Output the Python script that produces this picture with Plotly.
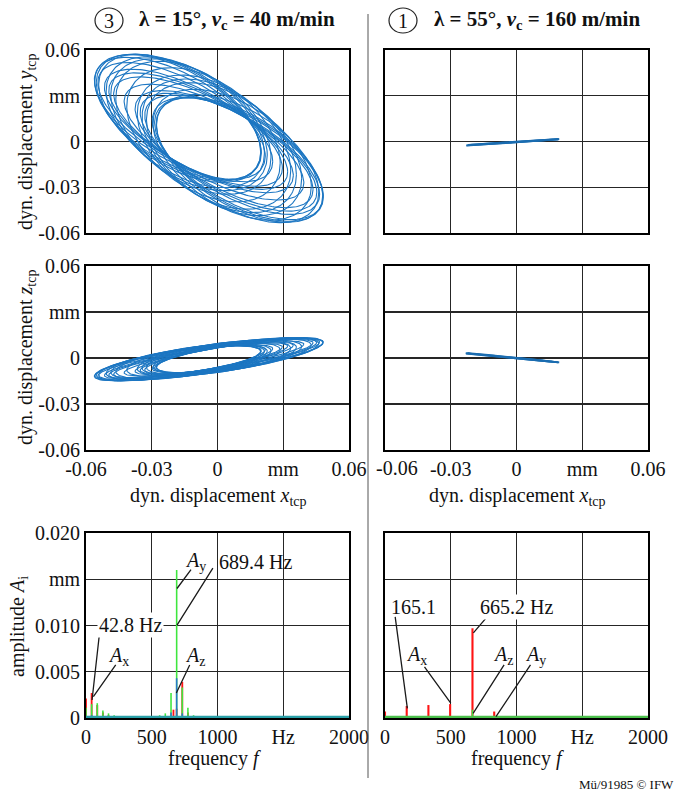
import numpy as np
import plotly.graph_objects as go

W, H = 683, 794
FONT = "Liberation Serif"

# ---------------- data: λ = 15°, vc = 40 m/min (trajectory loops) ----------------
loop_cx = [0.010, 0.0092, 0.0067, 0.003, -0.0016, -0.0064, -0.011, -0.0147, -0.0172,
           -0.018, -0.0172, -0.0147, -0.011, -0.0064, -0.0016, 0.003, 0.0067, 0.0092,
           0.0098, 0.005, -0.0088, -0.0178, -0.013, 0.0008]
loop_cy = [-0.012, -0.0112, -0.0087, -0.005, -0.0004, 0.0044, 0.009, 0.0127, 0.0152,
           0.016, 0.0152, 0.0127, 0.009, 0.0044, -0.0004, -0.005, -0.0087, -0.0112,
           -0.0118, -0.007, 0.0068, 0.0158, 0.011, -0.0028]
loop_ax = [0.038, 0.039, 0.0399, 0.0406, 0.041, 0.041, 0.0406, 0.0399, 0.039,
           0.038, 0.037, 0.0361, 0.0354, 0.035, 0.035, 0.0354, 0.0361, 0.037,
           0.0385, 0.0403, 0.0408, 0.0375, 0.0357, 0.0352]
loop_ay = [0.041, 0.040, 0.0391, 0.0384, 0.038, 0.038, 0.0384, 0.0391, 0.040,
           0.041, 0.042, 0.0429, 0.0436, 0.044, 0.044, 0.0436, 0.0429, 0.042,
           0.0405, 0.0387, 0.0382, 0.0415, 0.0433, 0.0438]
loop_phy = [125, 128.4, 131.4, 133.7, 134.8, 134.8, 133.7, 131.4, 128.4,
            125, 121.6, 118.6, 116.3, 115.2, 115.2, 116.3, 118.6, 121.6,
            126.7, 132.7, 134.4, 123.3, 117.3, 115.6]
loop_cz = [0.0019, 0.0017, 0.0013, 0.0006, -0.0003, -0.0012, -0.0021, -0.0028, -0.0033,
           -0.0034, -0.0033, -0.0028, -0.0021, -0.0012, -0.0003, 0.0006, 0.0013, 0.0017,
           0.0019, 0.0010, -0.0017, -0.0034, -0.0025, 0.0002]
loop_az = [0.0115, 0.0114, 0.0116, 0.0115, 0.0114, 0.0116, 0.0115, 0.0114, 0.0116,
           0.0115, 0.0114, 0.0116, 0.0115, 0.0114, 0.0116, 0.0115, 0.0114, 0.0116,
           0.0115, 0.0114, 0.0116, 0.0115, 0.0114, 0.0116]
loop_phz = [45, 41.6, 38.6, 36.3, 35.2, 35.2, 36.3, 38.6, 41.6,
            45, 48.4, 51.4, 53.7, 54.8, 54.8, 53.7, 51.4, 48.4,
            43.3, 37.3, 35.6, 46.7, 52.7, 54.4]

# ---------------- data: λ = 55°, vc = 160 m/min (trajectory loops) ----------------
r_loop_cx = [-0.0018, -0.0016, -0.0017]
r_loop_ax = [0.0210, 0.0205, 0.0212]
r_loop_cy = [-0.0005, -0.0004, -0.0006]
r_loop_ay = [0.0020, 0.0019, 0.0021]
r_loop_phy = [8, -6, 4]
r_loop_cz = [0.0001, 0.0002, 0.0000]
r_loop_az = [0.0029, 0.0030, 0.0028]
r_loop_phz = [176, 184, 178]

# ---------------- data: amplitude spectra ----------------
l_fx = [0, 42.8, 85.6, 128.4, 171.2, 214, 665, 689.4, 732.2, 775]
l_ax = [0.0021, 0.0027, 0.0014, 0.0006, 0.0003, 0.0002, 0.0009, 0.0010, 0.0039, 0.0006]
l_fy = [0, 42.8, 85.6, 128.4, 171.2, 214, 257, 300, 343, 386, 517, 560, 603, 646.6,
        689.4, 732.2, 775, 818, 861]
l_ay = [0.0011, 0.0015, 0.0016, 0.0008, 0.0005, 0.0003, 0.0002, 0.00015, 0.0001, 0.0001,
        0.0002, 0.0003, 0.0005, 0.0027, 0.0160, 0.0033, 0.0011, 0.0003, 0.0002]
l_fz = [0, 42.8, 646.6, 689.4, 732.2]
l_az = [0.0002, 0.0003, 0.0006, 0.0043, 0.0005]
l_floor_f = [0, 2000]
l_floor_a = [0.00012, 0.00012]

r_fx = [0, 165.1, 330.2, 495.3, 665.2, 830.5, 995.6, 1160.7]
r_ax = [0.0007, 0.0013, 0.0014, 0.0015, 0.0097, 0.0007, 0.0002, 0.0001]
r_fy = [665.2, 830.5]
r_ay = [0.0009, 0.0002]
r_floor_f = [0, 2000]
r_floor_a = [0.00012, 0.00012]

disp_ticks = [-0.06, -0.03, 0, 0.03, 0.06]
disp_labels = ["-0.06", "-0.03", "0", "mm", "0.06"]
freq_ticks = [0, 500, 1000, 1500, 2000]
freq_labels = ["0", "500", "1000", "Hz", "2000"]
amp_ticks = [0, 0.005, 0.010, 0.015, 0.020]
amp_labels = ["0", "0.005", "0.010", "mm", "0.020"]

# ---------------- helpers ----------------
def px(x):
    return x / W

def py(y):
    return 1 - y / H

t = np.linspace(0, 2 * np.pi, 220)

def loop_xy(cx, ax, cy, ay, ph):
    xs, ys = [], []
    for i in range(len(cx)):
        xs += list(cx[i] + ax[i] * np.cos(t)) + [None]
        ys += list(cy[i] + ay[i] * np.cos(t + np.radians(ph[i]))) + [None]
    return xs, ys

fig = go.Figure()
BLUE = "#1c76c2"

x1, y1 = loop_xy(loop_cx, loop_ax, loop_cy, loop_ay, loop_phy)
fig.add_trace(go.Scatter(x=x1, y=y1, mode="lines", line=dict(color=BLUE, width=1.1),
                         xaxis="x", yaxis="y", showlegend=False))
x3, z3 = loop_xy(loop_cx, loop_ax, loop_cz, loop_az, loop_phz)
fig.add_trace(go.Scatter(x=x3, y=z3, mode="lines", line=dict(color=BLUE, width=1.1),
                         xaxis="x3", yaxis="y3", showlegend=False))
x2, y2 = loop_xy(r_loop_cx, r_loop_ax, r_loop_cy, r_loop_ay, r_loop_phy)
fig.add_trace(go.Scatter(x=x2, y=y2, mode="lines", line=dict(color="#1a6cb0", width=1.8),
                         xaxis="x2", yaxis="y2", showlegend=False))
x4, z4 = loop_xy(r_loop_cx, r_loop_ax, r_loop_cz, r_loop_az, r_loop_phz)
fig.add_trace(go.Scatter(x=x4, y=z4, mode="lines", line=dict(color="#1a6cb0", width=1.8),
                         xaxis="x4", yaxis="y4", showlegend=False))

RED, GREEN, SBLUE = "#ff1414", "#3ee63e", "#2a78c8"
fig.add_trace(go.Scatter(x=l_floor_f, y=l_floor_a, mode="lines", line=dict(color="#2aa0a8", width=2.5),
                         xaxis="x5", yaxis="y5", showlegend=False))
fig.add_trace(go.Bar(x=l_fx, y=l_ax, width=14, marker=dict(color=RED, line=dict(width=0)),
                     xaxis="x5", yaxis="y5", showlegend=False))
fig.add_trace(go.Bar(x=l_fy, y=l_ay, width=12, marker=dict(color=GREEN, line=dict(width=0)),
                     xaxis="x5", yaxis="y5", showlegend=False))
fig.add_trace(go.Bar(x=l_fz, y=l_az, width=12, marker=dict(color=SBLUE, line=dict(width=0)),
                     xaxis="x5", yaxis="y5", showlegend=False))

fig.add_trace(go.Scatter(x=r_floor_f, y=r_floor_a, mode="lines", line=dict(color="#4cc04c", width=2.5),
                         xaxis="x6", yaxis="y6", showlegend=False))
fig.add_trace(go.Bar(x=r_fx, y=r_ax, width=16, marker=dict(color=RED, line=dict(width=0)),
                     xaxis="x6", yaxis="y6", showlegend=False))
fig.add_trace(go.Bar(x=r_fy, y=r_ay, width=12, marker=dict(color=GREEN, line=dict(width=0)),
                     xaxis="x6", yaxis="y6", showlegend=False))

# ---------------- axes ----------------
XL = [px(86), px(349)]
XR = [px(385), px(648)]
YT = [py(233), py(50)]
YM = [py(450), py(266)]
YB = [py(718), py(533)]

def ax_style(**kw):
    d = dict(showline=True, mirror=True, linecolor="black", linewidth=2,
             showgrid=True, gridcolor="#262626", gridwidth=1.3, zeroline=False,
             ticks="", tickfont=dict(family=FONT, size=20, color="#111"),
             layer="below traces", automargin=False, fixedrange=True)
    d.update(kw)
    return d

disp = dict(range=[-0.06, 0.06], tickvals=disp_ticks, ticktext=disp_labels)
disp_r = dict(range=[-0.06, 0.06], tickvals=disp_ticks, ticktext=[""] + disp_labels[1:])
freq = dict(range=[0, 2000], tickvals=freq_ticks, ticktext=freq_labels)
amp = dict(range=[0, 0.020], tickvals=amp_ticks, ticktext=amp_labels)

fig.update_layout(
    template="none",
    xaxis=ax_style(domain=XL, anchor="y", showticklabels=False, **disp),
    yaxis=ax_style(domain=YT, anchor="x", **disp),
    xaxis2=ax_style(domain=XR, anchor="y2", showticklabels=False, **disp),
    yaxis2=ax_style(domain=YT, anchor="x2", showticklabels=False, **disp),
    xaxis3=ax_style(domain=XL, anchor="y3", **disp),
    yaxis3=ax_style(domain=YM, anchor="x3", **disp),
    xaxis4=ax_style(domain=XR, anchor="y4", **disp_r),
    yaxis4=ax_style(domain=YM, anchor="x4", showticklabels=False, **disp),
    xaxis5=ax_style(domain=XL, anchor="y5", **freq),
    yaxis5=ax_style(domain=YB, anchor="x5", **amp),
    xaxis6=ax_style(domain=XR, anchor="y6", **freq),
    yaxis6=ax_style(domain=YB, anchor="x6", showticklabels=False, **amp),
    barmode="overlay",
    width=W, height=H, autosize=False,
    margin=dict(l=0, r=0, t=0, b=0, pad=0),
    paper_bgcolor="white", plot_bgcolor="white",
    font=dict(family=FONT, size=20, color="#111"),
    hovermode=False,
)

ann = []

def ptext(x, y, text, size=20, angle=0, xanchor="center", **kw):
    ann.append(dict(x=px(x), y=py(y), xref="paper", yref="paper", text=text, showarrow=False,
                    font=dict(family=FONT, size=size, color="#111"), textangle=angle,
                    xanchor=xanchor, yanchor="middle", **kw))

# titles
ptext(237, 20, "<b>λ = 15°, <i>v</i><sub>c</sub> = 40 m/min</b>", size=21)
ptext(537, 20, "<b>λ = 55°, <i>v</i><sub>c</sub> = 160 m/min</b>", size=21)
ptext(109, 21, "3", size=20)
ptext(403, 21, "1", size=20)

# axis titles
ptext(26, 142, "dyn. displacement <i>y</i><sub>tcp</sub>", angle=-90)
ptext(26, 358, "dyn. displacement <i>z</i><sub>tcp</sub>", angle=-90)
ptext(18, 627, "amplitude <i>A</i><sub>i</sub>", angle=-90)
ptext(218, 496, "dyn. displacement <i>x</i><sub>tcp</sub>")
ptext(517, 496, "dyn. displacement <i>x</i><sub>tcp</sub>")
ptext(214, 758, "frequency <i>f</i>")
ptext(517, 758, "frequency <i>f</i>")
ptext(676, 784, "Mü/91985 © IFW", size=13, xanchor="right")
ptext(397, 468, "-0.06")

# spectrum labels (data coords)
def dtext(xr, yr, x, y, text, bg=None):
    d = dict(x=x, y=y, xref=xr, yref=yr, text=text, showarrow=False,
             font=dict(family=FONT, size=20, color="#111"), xanchor="center", yanchor="middle")
    if bg:
        d["bgcolor"] = bg
    ann.append(d)

def leader(xr, yr, hx, hy, tx, ty):
    ann.append(dict(x=hx, y=hy, xref=xr, yref=yr, ax=tx, ay=ty, axref=xr, ayref=yr,
                    text="", showarrow=True, arrowhead=0, arrowwidth=1.3, arrowcolor="#1a1a1a",
                    standoff=0, startstandoff=0))

# left spectrum
leader("x5", "y5", 692, 0.0140, 807, 0.0162)
leader("x5", "y5", 692, 0.01005, 972, 0.01636)
leader("x5", "y5", 46, 0.00195, 107, 0.0097)
leader("x5", "y5", 56, 0.0023, 234, 0.0059)
leader("x5", "y5", 687, 0.0027, 794, 0.0059)
dtext("x5", "y5", 832, 0.0169, "<i>A</i><sub>y</sub>")
dtext("x5", "y5", 1290, 0.0169, "689.4 Hz")
dtext("x5", "y5", 336, 0.01005, "42.8 Hz", bg="white")
dtext("x5", "y5", 247, 0.0066, "<i>A</i><sub>x</sub>")
dtext("x5", "y5", 832, 0.0066, "<i>A</i><sub>z</sub>")

# right spectrum
leader("x6", "y6", 170, 0.00105, 76, 0.0111)
leader("x6", "y6", 672, 0.0092, 786, 0.0111)
leader("x6", "y6", 500, 0.0016, 292, 0.0057)
leader("x6", "y6", 670, 0.0005, 913, 0.0059)
leader("x6", "y6", 844, 0.00014, 1114, 0.0059)
dtext("x6", "y6", 215, 0.0120, "165.1")
dtext("x6", "y6", 1002, 0.0120, "665.2 Hz", bg="white")
dtext("x6", "y6", 241, 0.0068, "<i>A</i><sub>x</sub>")
dtext("x6", "y6", 898, 0.0068, "<i>A</i><sub>z</sub>")
dtext("x6", "y6", 1141, 0.0068, "<i>A</i><sub>y</sub>")

fig.update_layout(annotations=ann)

shapes = [
    dict(type="circle", xref="paper", yref="paper", x0=px(95), x1=px(123), y0=py(33), y1=py(8),
         line=dict(color="#222", width=1.2)),
    dict(type="circle", xref="paper", yref="paper", x0=px(389), x1=px(417), y0=py(33), y1=py(8),
         line=dict(color="#222", width=1.2)),
    dict(type="line", xref="paper", yref="paper", x0=px(368), x1=px(368), y0=py(14), y1=py(778),
         line=dict(color="#555", width=1)),
]
fig.update_layout(shapes=shapes)

fig.write_html("out.html", config={"displayModeBar": False, "staticPlot": True},
               post_script="document.body.style.margin='0';")
